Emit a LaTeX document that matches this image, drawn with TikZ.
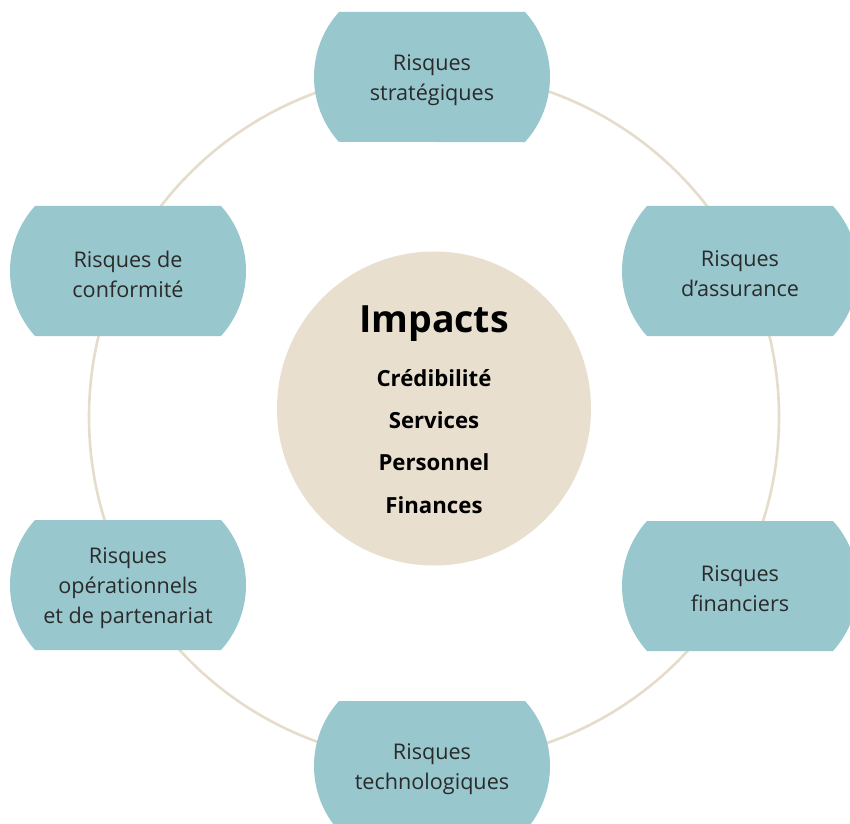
\documentclass[tikz,border=0pt]{standalone}
\usepackage{fontspec}
\setmainfont{Open Sans}
\definecolor{boxteal}{HTML}{98C7CE}
\definecolor{beige}{HTML}{E8DFCF}
\definecolor{ringc}{HTML}{E6DCCB}
\definecolor{txt}{HTML}{2A2A2A}
\newcommand\riskbox[4]{%
  \path[fill=boxteal] ({#2-93},{#3+65}) -- ({#2+93},{#3+65})
     arc[start angle=42.08, end angle=-42.08, radius=97]
     -- ({#2-93},{#3-65})
     arc[start angle=222.08, end angle=137.92, radius=97] -- cycle;
  \node[boxtext] (#1) at ({#2},{#3-3}) {#4};%
}
\tikzset{
  boxtext/.style={align=center, text=txt, font=\fontsize{21.6}{30}\selectfont, inner sep=0pt},
  imptitle/.style={anchor=base, font=\fontsize{37.5}{40}\bfseries\selectfont, text=black, inner sep=0pt},
  impitem/.style={anchor=base, font=\fontsize{22.2}{24}\bfseries\selectfont, text=black, inner sep=0pt}
}
\begin{document}
\begin{tikzpicture}[x=1pt,y=1pt]
\useasboundingbox (0,0) rectangle (850,823);
\clip (0,0) rectangle (850,823);
\fill[white] (0,0) rectangle (850,823);
% ring
\draw[ringc, line width=2.6pt] (434,406) circle[radius=345];
% boxes
\riskbox{strat}{432}{746}{Risques\\strat\'egiques}
\riskbox{conf}{128}{552}{Risques de\\conformit\'e}
\riskbox{assur}{740}{552}{Risques\\d’assurance}
\riskbox{oper}{128}{238}{Risques\\op\'erationnels\\et de partenariat}
\riskbox{fin}{740}{237}{Risques\\financiers}
\riskbox{tech}{432}{57}{Risques\\technologiques}
% centre
\fill[beige] (434,414.5) circle[radius=157];
\node[imptitle] (imp) at (434,491) {Impacts};
\node[impitem] (cred) at (434,437) {Crédibilité};
\node[impitem] (serv) at (434,395) {Services};
\node[impitem] (pers) at (434,353) {Personnel};
\node[impitem] (fina) at (434,310) {Finances};
\end{tikzpicture}
\end{document}
